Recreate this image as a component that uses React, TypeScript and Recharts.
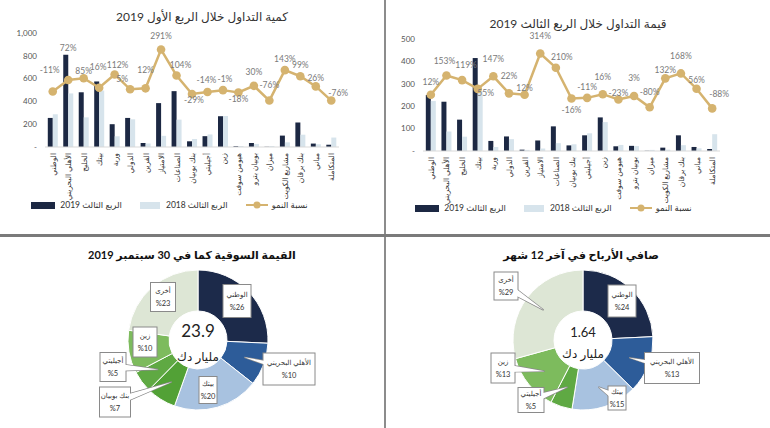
import React from 'react';
import { ComposedChart, Bar, Line, XAxis, YAxis, LabelList, Legend, PieChart, Pie, Cell } from 'recharts';

// categories shared by both bar charts
const categories = [
  'الوطني', 'الأهلي البحريني', 'الخليج', 'بيتك', 'وربة', 'الدولي', 'القرين', 'الامتياز', 'الصناعات',
  'بنك بوبيان', 'أجيليتي', 'زين', 'هيومن سوفت', 'بوبيان بترو', 'ميزان', 'مشاريع الكويت', 'بنك برقان', 'مباني', 'المتكاملة',
];

// volume chart (left)
const volume2019 = [255, 810, 480, 575, 200, 255, 35, 385, 490, 50, 95, 270, 7, 35, 2, 100, 215, 30, 20];
const volume2018 = [287, 470, 260, 495, 94, 243, 31, 98, 240, 70, 110, 272, 9, 27, 8, 41, 108, 24, 83];
const volumeGrowth = [-11, 72, 85, 16, 112, 5, 12, 291, 104, -29, -14, -1, -18, 30, -76, 143, 99, 26, -76];
const volumeTicks = [0, 200, 400, 600, 800, 1000];

// value chart (right)
const value2019 = [250, 220, 140, 415, 45, 65, 6, 47, 110, 25, 70, 150, 21, 23, 1, 15, 70, 18, 9];
const value2018 = [223, 87, 64, 268, 18, 53, 5, 11, 35, 30, 79, 129, 27, 22, 5, 6, 26, 12, 75];
const valueGrowth = [12, 153, 119, 55, 147, 22, 12, 314, 210, -16, -11, 16, -23, 3, -80, 132, 168, 56, -88];
const valueTicks = [0, 100, 200, 300, 400, 500];

// pies
const capNames = ['الوطني', 'الأهلي البحريني', 'بيتك', 'بنك بوبيان', 'أجيليتي', 'زين', 'أخرى'];
const capShares = [26, 10, 20, 7, 5, 10, 23];
const profitNames = ['الوطني', 'الأهلي البحريني', 'بيتك', 'أجيليتي', 'زين', 'أخرى'];
const profitShares = [24, 13, 15, 5, 13, 29];

const NAVY = '#1c2843';
const LIGHT = '#d7e4ec';
const GOLD = '#d5b36f';
const FONT = "Lato, 'DejaVu Sans', sans-serif";

// where the growth labels sit relative to their point (lift = px above, negative = below)
const volumeLabelLift = [22, 32, 7, 21, 9, 10, 18, 14, 11, -6, 12, 11, -6, 14, 16, 11, 11, 8, 8];
const volumeLabelDx = [-3, 0, 0, -1, 3, -8, 0, 0, 4, 2, -1, 2, 0, 0, 0, 0, 0, 0, 7];
const valueLabelLift = [13, 14, 15, -4, 17, 17, 7, 17, 11, -11, 11, 17, 7, 18, 15, 8, 17, 9, 14];
const valueLabelDx = [0, -2, 4, 8, 0, 0, 0, 0, 6, 0, 0, 0, 0, 0, 0, 0, 0, 0, 7];

const sliceColors: Record<string, string> = {
  'الوطني': '#1c2a4a',
  'الأهلي البحريني': '#2d5c99',
  'بيتك': '#a8c2e0',
  'بنك بوبيان': '#52a136',
  'أجيليتي': '#5fa943',
  'زين': '#7dbb5d',
  'أخرى': '#dde6d5',
};

// callout boxes: offset of box centre from the pie centre, box size, and whether it has a pointer
type Box = { dx: number; dy: number; w: number; h: number; tail?: boolean };
const capBoxes: Record<string, Box> = {
  'الوطني': { dx: 39, dy: -39, w: 28, h: 33 },
  'الأهلي البحريني': { dx: 91, dy: 29, w: 52, h: 32, tail: true },
  'بيتك': { dx: 10, dy: 50, w: 18, h: 27 },
  'بنك بوبيان': { dx: -83, dy: 62, w: 31, h: 30, tail: true },
  'أجيليتي': { dx: -85, dy: 27, w: 26, h: 29, tail: true },
  'زين': { dx: -53, dy: 2, w: 24, h: 30 },
  'أخرى': { dx: -35, dy: -43, w: 25, h: 29 },
};
const profitBoxes: Record<string, Box> = {
  'الوطني': { dx: 39, dy: -39, w: 28, h: 32 },
  'الأهلي البحريني': { dx: 89, dy: 28, w: 55, h: 31, tail: true },
  'بيتك': { dx: 34, dy: 58, w: 18, h: 24, tail: true },
  'أجيليتي': { dx: -52, dy: 60, w: 26, h: 25, tail: true },
  'زين': { dx: -80, dy: 28, w: 24, h: 30, tail: true },
  'أخرى': { dx: -77, dy: -54, w: 24, h: 28, tail: true },
};

const RAD = Math.PI / 180;

function makeCallout(boxes: Record<string, Box>) {
  return (props: any) => {
    const { cx, cy, midAngle, innerRadius, outerRadius, value } = props;
    const name = props.name ?? props.payload?.name;
    const b = boxes[name];
    if (!b) return null;
    const bx = cx + b.dx;
    const by = cy + b.dy;
    const x0 = bx - b.w / 2;
    const y0 = by - b.h / 2;
    let tail: string | null = null;
    if (b.tail) {
      const r = (innerRadius + outerRadius) / 2;
      const tx = cx + r * Math.cos(-midAngle * RAD);
      const ty = cy + r * Math.sin(-midAngle * RAD);
      const len = Math.hypot(tx - bx, ty - by) || 1;
      const px = (-(ty - by) / len) * 4;
      const py = ((tx - bx) / len) * 4;
      tail = `${bx + px},${by + py} ${tx},${ty} ${bx - px},${by - py}`;
    }
    return (
      <g>
        {tail && <polygon points={tail} fill="#fff" stroke="#8a8a8a" strokeWidth={1.4} />}
        <rect x={x0} y={y0} width={b.w} height={b.h} fill="#fff" stroke="#8a8a8a" strokeWidth={1} />
        {tail && <polygon points={tail} fill="#fff" stroke="none" />}
        <text x={bx} y={by - 4} textAnchor="middle" fontSize={7} fill="#333" fontFamily={FONT}>{name}</text>
        <text x={bx} y={by + 9} textAnchor="middle" fontSize={7.5} fill="#333" fontFamily={FONT}>{`%${value}`}</text>
      </g>
    );
  };
}

function VerticalTick({ x, y, payload }: any) {
  return (
    <text x={x} y={y} transform={`rotate(-90 ${x} ${y})`} dx={-2} dy={3} textAnchor="end" fontSize={7.5} fill="#333" fontFamily={FONT}>
      {payload.value}
    </text>
  );
}

function growthLabel(lift: number[], shift: number[]) {
  return (props: any) => {
    const { x, y, value, index } = props;
    return (
      <text x={x + shift[index]} y={y - lift[index] + 3} textAnchor="middle" fontSize={8.5} fill="#7a7a7a" fontFamily={FONT}>
        {`${value}%`}
      </text>
    );
  };
}

function BarLegend() {
  const item: React.CSSProperties = { display: 'flex', alignItems: 'center', margin: '0 9px' };
  return (
    <div style={{ display: 'flex', justifyContent: 'center', alignItems: 'center', height: 16, fontSize: 8.5, color: '#333', fontFamily: FONT }}>
      <span style={item}>
        <span style={{ width: 24, height: 7, background: NAVY, marginRight: 5 }} />
        الربع الثالث 2019
      </span>
      <span style={item}>
        <span style={{ width: 20, height: 7, background: LIGHT, marginRight: 6 }} />
        الربع الثالث 2018
      </span>
      <span style={item}>
        <svg width={22} height={8} style={{ marginRight: 4 }}>
          <line x1={0} y1={4} x2={22} y2={4} stroke={GOLD} strokeWidth={2} />
          <circle cx={11} cy={4} r={3.5} fill={GOLD} />
        </svg>
        نسبة النمو
      </span>
    </div>
  );
}

const fmtTick = (v: number) => (v === 0 ? '-' : v.toLocaleString('en-US'));

function TradingChart(props: {
  width: number; y2019: number[]; y2018: number[]; growth: number[]; ticks: number[];
  growthDomain: [number, number]; margin: any; lift: number[]; shift: number[];
  yWidth: number; xHeight: number;
}) {
  const data = categories.map((name, i) => ({
    name, y2019: props.y2019[i], y2018: props.y2018[i], growth: props.growth[i],
  }));
  const max = props.ticks[props.ticks.length - 1];
  return (
    <ComposedChart width={props.width} height={235} data={data} margin={props.margin} barGap={0} barCategoryGap="18%">
      <XAxis
        dataKey="name" interval={0} tick={<VerticalTick />} tickLine={false} tickSize={2}
        axisLine={{ stroke: '#d9d9d9' }} height={props.xHeight}
      />
      <YAxis
        yAxisId="v" domain={[0, max]} ticks={props.ticks} tickFormatter={fmtTick}
        axisLine={false} tickLine={false} tickSize={0} tickMargin={8} width={props.yWidth}
        tick={{ fontSize: 8, fill: '#555', fontFamily: FONT }}
      />
      <YAxis yAxisId="g" orientation="right" hide domain={props.growthDomain} />
      <Bar yAxisId="v" dataKey="y2019" fill={NAVY} isAnimationActive={false} />
      <Bar yAxisId="v" dataKey="y2018" fill={LIGHT} isAnimationActive={false} />
      <Line
        yAxisId="g" dataKey="growth" type="linear" stroke={GOLD} strokeWidth={2.5}
        dot={{ r: 4.3, fill: GOLD, stroke: GOLD, strokeWidth: 0 }} isAnimationActive={false}
      >
        <LabelList dataKey="growth" content={growthLabel(props.lift, props.shift)} />
      </Line>
      <Legend verticalAlign="bottom" height={16} content={() => <BarLegend />} />
    </ComposedChart>
  );
}

function SharePie(props: { width: number; names: string[]; shares: number[]; boxes: Record<string, Box>; cx: number }) {
  const data = props.names.map((name, i) => ({ name, value: props.shares[i] }));
  return (
    <PieChart width={props.width} height={191} margin={{ top: 0, right: 0, bottom: 0, left: 0 }}>
      <Pie
        data={data} dataKey="value" nameKey="name" cx={props.cx} cy={103}
        innerRadius={29} outerRadius={70} startAngle={90} endAngle={-270}
        stroke="#fff" strokeWidth={1} labelLine={false} label={makeCallout(props.boxes)}
        isAnimationActive={false}
      >
        {data.map((d) => (
          <Cell key={d.name} fill={sliceColors[d.name]} />
        ))}
      </Pie>
    </PieChart>
  );
}

const abs = (left: number, top: number, extra: React.CSSProperties = {}): React.CSSProperties => ({
  position: 'absolute', left, top, ...extra,
});

export default function App() {
  const title: React.CSSProperties = { fontSize: 12, color: '#333', whiteSpace: 'nowrap', transform: 'translate(-50%, -50%)' };
  const boldTitle: React.CSSProperties = { ...title, fontSize: 11, fontWeight: 700, color: '#111' };
  const center: React.CSSProperties = { whiteSpace: 'nowrap', transform: 'translate(-50%, -50%)', color: '#222' };
  return (
    <div style={{ position: 'absolute', left: 0, top: 0, width: 770, height: 428, background: '#fff', fontFamily: FONT, overflow: 'hidden' }}>
      <div style={abs(0, 0)}>
        <TradingChart
          width={385} y2019={volume2019} y2018={volume2018} growth={volumeGrowth} ticks={volumeTicks}
          growthDomain={[-410, 410]} margin={{ top: 33, right: 46, bottom: 22, left: 0 }}
          lift={volumeLabelLift} shift={volumeLabelDx} yWidth={45} xHeight={50}
        />
      </div>
      <div style={abs(387, 0)}>
        <TradingChart
          width={383} y2019={value2019} y2018={value2018} growth={valueGrowth} ticks={valueTicks}
          growthDomain={[-400, 420]} margin={{ top: 39, right: 50, bottom: 19, left: 0 }}
          lift={valueLabelLift} shift={valueLabelDx} yWidth={36} xHeight={49}
        />
      </div>
      <div style={abs(0, 237)}>
        <SharePie width={385} names={capNames} shares={capShares} boxes={capBoxes} cx={198} />
      </div>
      <div style={abs(387, 237)}>
        <SharePie width={383} names={profitNames} shares={profitShares} boxes={profitBoxes} cx={196} />
      </div>

      <div style={abs(202, 16, title)}>كمية التداول خلال الربع الأول 2019</div>
      <div style={abs(578, 23, title)}>قيمة التداول خلال الربع الثالث 2019</div>
      <div style={abs(192, 255, boldTitle)}>القيمة السوقية كما في 30 سبتمبر 2019</div>
      <div style={abs(581, 255, boldTitle)}>صافي الأرباح في آخر 12 شهر</div>

      <div style={abs(198, 330, { ...center, fontSize: 17 })}>23.9</div>
      <div style={abs(198, 356, { ...center, fontSize: 12 })}>مليار دك</div>
      <div style={abs(583, 332, { ...center, fontSize: 13 })}>1.64</div>
      <div style={abs(583, 353, { ...center, fontSize: 12 })}>مليار دك</div>

      <div style={abs(384, 0, { width: 2, height: 428, background: '#8c8c8c' })} />
      <div style={abs(0, 234, { width: 770, height: 3, background: '#7a7a7a' })} />
    </div>
  );
}
